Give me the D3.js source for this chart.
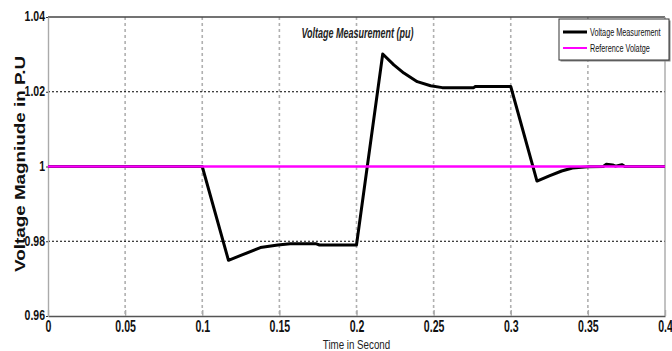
<!DOCTYPE html>
<html>
<head>
<meta charset="utf-8">
<script src="https://cdn.jsdelivr.net/npm/d3@7"></script>
<style>
  body { margin: 0; background: #fff; }
  text { font-family: "Liberation Sans", Arial, sans-serif; }
</style>
</head>
<body>
<div id="chart"></div>
<script>
// time axis (s) and measured voltage (pu)
const timeSec = [0, 0.1, 0.117, 0.125, 0.1377, 0.149, 0.157, 0.174, 0.176, 0.2,
  0.217, 0.2242, 0.2307, 0.2394, 0.248, 0.2556, 0.276, 0.277, 0.3,
  0.317, 0.325, 0.333, 0.34, 0.35, 0.36, 0.362, 0.366, 0.368, 0.372, 0.374, 0.4];
const voltage = [1, 1, 0.9749, 0.9762, 0.9783, 0.979, 0.9793, 0.9793, 0.979, 0.979,
  1.0301, 1.0272, 1.025, 1.0227, 1.0216, 1.0211, 1.0211, 1.0214, 1.0214,
  0.9961, 0.9975, 0.9988, 0.9996, 0.9999, 1.0, 1.0006, 1.0004, 1.0001, 1.0005, 1.0, 1.0];
const refVoltage = 1;

const xTicks = [0, 0.05, 0.1, 0.15, 0.2, 0.25, 0.3, 0.35, 0.4];
const yTicks = [0.96, 0.98, 1, 1.02, 1.04];
const legendNames = ["Voltage Measurement", "Reference Volatge"];

const W = 672, H = 351;
const margin = {top: 17, right: 7, bottom: 35, left: 48};
const width = W - margin.left - margin.right;
const height = H - margin.top - margin.bottom;

// squeeze text horizontally (the original uses a narrow font)
function condense(sel, k) {
  sel.each(function() {
    const len = this.getComputedTextLength();
    d3.select(this).attr("textLength", len * k).attr("lengthAdjust", "spacingAndGlyphs");
  });
}

const svg = d3.select("#chart").append("svg")
    .attr("width", W).attr("height", H);

const g = svg.append("g")
    .attr("transform", `translate(${margin.left},${margin.top})`);

const x = d3.scaleLinear().domain([0, 0.4]).range([0, width]);
const y = d3.scaleLinear().domain([0.96, 1.04]).range([height, 0]);

// vertical grid (gray dashes)
g.append("g").selectAll("line")
    .data(xTicks.slice(1, -1))
    .enter().append("line")
    .attr("x1", d => x(d)).attr("x2", d => x(d))
    .attr("y1", 0).attr("y2", height)
    .attr("stroke", "#b0b0b0").attr("stroke-width", 1.6)
    .attr("stroke-dasharray", "3,3");

// horizontal grid (black dots)
g.append("g").selectAll("line")
    .data(yTicks.slice(1, -1))
    .enter().append("line")
    .attr("x1", 0).attr("x2", width)
    .attr("y1", d => y(d)).attr("y2", d => y(d))
    .attr("stroke", "#000").attr("stroke-width", 1)
    .attr("stroke-dasharray", "2,2");

// box
g.append("line").attr("x1", 0).attr("x2", width).attr("y1", 0).attr("y2", 0)
    .attr("stroke", "#444").attr("stroke-width", 1.5);
g.append("line").attr("x1", width).attr("x2", width).attr("y1", 0).attr("y2", height)
    .attr("stroke", "#999").attr("stroke-width", 1.2);

// axes
const xAxis = g.append("g")
    .attr("transform", `translate(0,${height})`)
    .call(d3.axisBottom(x).tickValues(xTicks).tickFormat(d3.format("")).tickSizeInner(-6).tickSizeOuter(0).tickPadding(5));
xAxis.select(".domain").attr("stroke", "#555").attr("stroke-width", 1.6);
xAxis.selectAll(".tick line").attr("stroke", "#aaa").attr("stroke-width", 1.4);
xAxis.selectAll(".tick text")
    .attr("font-size", 16).attr("font-weight", "bold").attr("fill", "#111")
    .attr("font-family", "Liberation Sans, Arial, sans-serif")
    .call(condense, 0.66);

const yAxis = g.append("g")
    .call(d3.axisLeft(y).tickValues(yTicks).tickFormat(d3.format("")).tickSizeInner(2).tickSizeOuter(0).tickPadding(1));
yAxis.select(".domain").attr("stroke", "#aaa").attr("stroke-width", 1.4);
yAxis.selectAll(".tick line").attr("stroke", "#333");
yAxis.selectAll(".tick text")
    .attr("font-size", 15).attr("font-weight", "bold").attr("fill", "#111")
    .attr("font-family", "Liberation Sans, Arial, sans-serif")
    .attr("dy", "0.25em")
    .call(condense, 0.7);

// measured voltage
const line = d3.line().x((d, i) => x(timeSec[i])).y(d => y(d));
g.append("path")
    .datum(voltage)
    .attr("d", line)
    .attr("fill", "none")
    .attr("stroke", "#000")
    .attr("stroke-width", 3)
    .attr("stroke-linejoin", "round");

// reference line on top
g.append("line")
    .attr("x1", x(0)).attr("x2", x(0.4))
    .attr("y1", y(refVoltage)).attr("y2", y(refVoltage))
    .attr("stroke", "#ff00ff").attr("stroke-width", 2.5);

// title
g.append("text")
    .attr("x", width / 2 + 1).attr("y", 21)
    .attr("text-anchor", "middle")
    .attr("font-size", 15).attr("font-weight", "bold").attr("font-style", "italic")
    .attr("fill", "#222")
    .text("Voltage Measurement  (pu)")
    .call(condense, 0.6);

// axis labels
svg.append("text")
    .attr("x", margin.left + width / 2).attr("y", H - 2)
    .attr("text-anchor", "middle")
    .attr("font-size", 13)
    .attr("fill", "#222")
    .text("Time in Second")
    .call(condense, 0.75);

svg.append("text")
    .attr("transform", `translate(25,${margin.top + 147}) rotate(-90)`)
    .attr("text-anchor", "middle")
    .attr("font-size", 15.5).attr("font-weight", "bold")
    .attr("fill", "#111")
    .attr("textLength", 216).attr("lengthAdjust", "spacingAndGlyphs")
    .text("Voltage Magniude in P.U");

// legend
const legend = svg.append("g").attr("transform", "translate(559,19)");
legend.append("rect")
    .attr("x", 1.5).attr("y", 1.5).attr("width", 110).attr("height", 41)
    .attr("fill", "#888");
legend.append("rect")
    .attr("width", 110).attr("height", 41)
    .attr("fill", "#fff").attr("stroke", "#333").attr("stroke-width", 1);
const items = legend.selectAll(".item")
    .data(legendNames)
    .enter().append("g")
    .attr("transform", (d, i) => `translate(0,${13 + i * 16})`);
items.append("line")
    .attr("x1", 4).attr("x2", 28)
    .attr("stroke", (d, i) => i === 0 ? "#000" : "#ff00ff")
    .attr("stroke-width", (d, i) => i === 0 ? 3 : 2);
items.append("text")
    .attr("x", 31).attr("y", 3.5)
    .attr("font-size", 11)
    .attr("fill", "#111")
    .text(d => d)
    .call(condense, 0.66);
</script>
</body>
</html>
